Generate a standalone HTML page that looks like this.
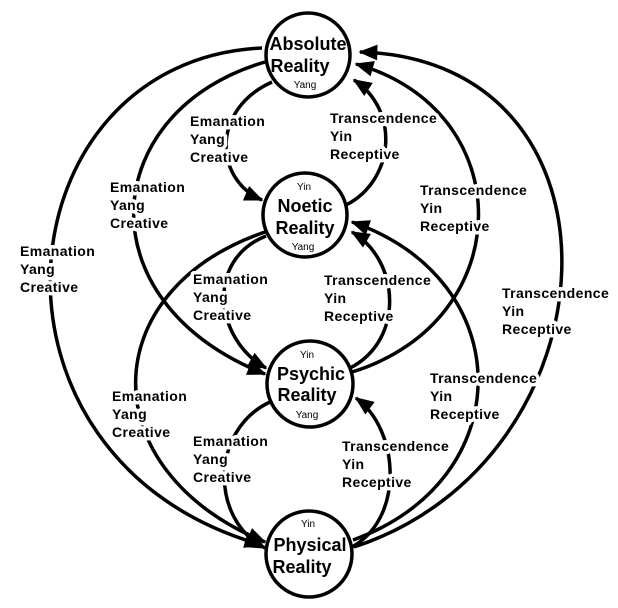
<!DOCTYPE html>
<html><head><meta charset="utf-8"><style>
html,body{margin:0;padding:0;background:#fff;}
svg{display:block;}
.l{font-family:"Liberation Sans",sans-serif;font-weight:bold;font-size:14px;letter-spacing:0.4px;fill:#000;stroke:#fff;stroke-width:7px;paint-order:stroke;stroke-linejoin:round;}
.t{font-family:"Liberation Sans",sans-serif;font-weight:bold;font-size:18px;fill:#000;}
.s{font-family:"Liberation Sans",sans-serif;font-size:10px;fill:#000;}
</style></head><body>
<svg width="618" height="608" viewBox="0 0 618 608" xmlns="http://www.w3.org/2000/svg">
<defs><marker id="a" viewBox="0 0 12 10" refX="11" refY="5" markerWidth="6" markerHeight="4.5" orient="auto" markerUnits="strokeWidth"><path d="M0,0 L12,5 L0,10 z" fill="#000"/></marker></defs>
<g fill="none" stroke="#000" stroke-width="3.5" marker-end="url(#a)">
<path d="M262,48 C 0,60 -40,460 262,545"/>
<path d="M354,547 C 620,460 640,60 360,52"/>
<path d="M265,62 C 100,110 80,300 265,374"/>
<path d="M265,232 C 95,290 90,470 265,542"/>
<path d="M352,372 C 520,320 520,110 356,64"/>
<path d="M353,540 C 520,480 520,280 352,222"/>
<path d="M272,82 C 210,110 215,180 262,200"/>
<path d="M346,205 C 395,180 400,110 354,80"/>
<path d="M266,236 C 205,260 215,340 266,368"/>
<path d="M350,368 C 405,340 400,260 352,232"/>
<path d="M270,402 C 210,430 210,520 265,548"/>
<path d="M350,548 C 405,520 400,430 356,398"/>
</g>
<g fill="#fff" stroke="#000" stroke-width="3.5">
<circle cx="308" cy="55" r="42"/>
<circle cx="305" cy="215" r="42"/>
<circle cx="310" cy="384" r="43"/>
<circle cx="309" cy="554" r="43"/>
</g>
<text class="t" x="308" y="50" text-anchor="middle">Absolute</text>
<text class="t" x="300" y="72" text-anchor="middle">Reality</text>
<text class="s" x="305" y="88" text-anchor="middle">Yang</text>
<text class="s" x="304" y="190" text-anchor="middle">Yin</text>
<text class="t" x="305" y="212" text-anchor="middle">Noetic</text>
<text class="t" x="305" y="234" text-anchor="middle">Reality</text>
<text class="s" x="303" y="250" text-anchor="middle">Yang</text>
<text class="s" x="307" y="358" text-anchor="middle">Yin</text>
<text class="t" x="311" y="380" text-anchor="middle">Psychic</text>
<text class="t" x="307" y="401" text-anchor="middle">Reality</text>
<text class="s" x="307" y="418" text-anchor="middle">Yang</text>
<text class="s" x="308" y="527" text-anchor="middle">Yin</text>
<text class="t" x="310" y="551" text-anchor="middle">Physical</text>
<text class="t" x="302" y="573" text-anchor="middle">Reality</text>
<g class="l">
<text x="190" y="126">Emanation</text><text x="190" y="144">Yang</text><text x="190" y="162">Creative</text>
<text x="110" y="192">Emanation</text><text x="110" y="210">Yang</text><text x="110" y="228">Creative</text>
<text x="20" y="256">Emanation</text><text x="20" y="274">Yang</text><text x="20" y="292">Creative</text>
<text x="193" y="284">Emanation</text><text x="193" y="302">Yang</text><text x="193" y="320">Creative</text>
<text x="112" y="401">Emanation</text><text x="112" y="419">Yang</text><text x="112" y="437">Creative</text>
<text x="193" y="446">Emanation</text><text x="193" y="464">Yang</text><text x="193" y="482">Creative</text>
<text x="330" y="123">Transcendence</text><text x="330" y="141">Yin</text><text x="330" y="159">Receptive</text>
<text x="420" y="195">Transcendence</text><text x="420" y="213">Yin</text><text x="420" y="231">Receptive</text>
<text x="502" y="298">Transcendence</text><text x="502" y="316">Yin</text><text x="502" y="334">Receptive</text>
<text x="324" y="285">Transcendence</text><text x="324" y="303">Yin</text><text x="324" y="321">Receptive</text>
<text x="430" y="383">Transcendence</text><text x="430" y="401">Yin</text><text x="430" y="419">Receptive</text>
<text x="342" y="451">Transcendence</text><text x="342" y="469">Yin</text><text x="342" y="487">Receptive</text>
</g>
</svg>
</body></html>
